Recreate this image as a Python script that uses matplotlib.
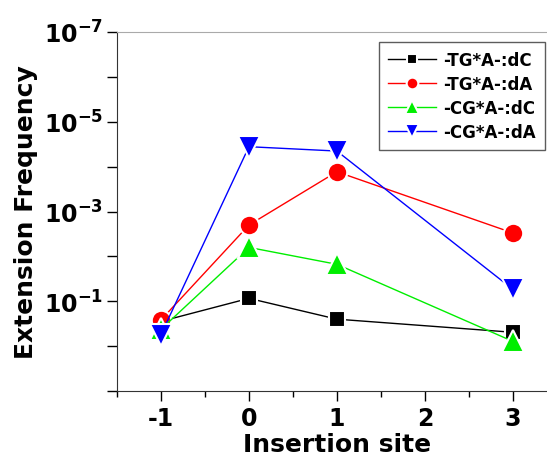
import math
import matplotlib
matplotlib.use('Agg')
import matplotlib.pyplot as plt
from matplotlib.ticker import FixedLocator, FuncFormatter, MultipleLocator, NullFormatter

plt.rcParams['font.family'] = 'DejaVu Sans'
plt.rcParams['font.weight'] = 'bold'
plt.rcParams['mathtext.fontset'] = 'dejavusans'
plt.rcParams['mathtext.default'] = 'bf'
plt.rcParams['axes.unicode_minus'] = False

# insertion sites
sites = [-1, 0, 1, 3]

# extension frequency per sequence context
tg_dc = [0.28, 0.086, 0.25, 0.49]
tg_da = [0.26, 0.0020, 1.3e-4, 0.0030]
cg_dc = [0.42, 0.0063, 0.015, 0.78]
cg_da = [0.55, 3.6e-5, 4.5e-5, 0.054]

labels = ['-TG*A-:dC', '-TG*A-:dA', '-CG*A-:dC', '-CG*A-:dA']

fig = plt.figure(figsize=(5.47, 4.64), dpi=100)
ax = fig.add_axes([0.2139, 0.155, 0.804, 0.774])

ax.plot(sites, tg_dc, color='black', lw=1, marker='s', ms=12, mec='white', mew=1.5, label=labels[0])
ax.plot(sites, tg_da, color='red', lw=1, marker='o', ms=14, mec='white', mew=1.5, label=labels[1])
ax.plot(sites, cg_dc, color='#00ee00', lw=1, marker='^', ms=16, mec='white', mew=1.5, label=labels[2])
ax.plot(sites, cg_da, color='blue', lw=1, marker='v', ms=16, mec='white', mew=1.5, label=labels[3])

ax.set_yscale('log')
ax.set_ylim(10, 1e-7)
ax.set_xlim(-1.5, 3.5)

ax.yaxis.set_major_locator(FixedLocator([10.0 ** e for e in range(-7, 2)]))
ax.yaxis.set_minor_formatter(NullFormatter())
ax.yaxis.set_minor_locator(FixedLocator([]))


def ylab(v, pos):
    e = int(round(math.log10(v)))
    if e in (-7, -5, -3, -1):
        return r'$\mathbf{10^{%d}}$' % e
    return ''


ax.yaxis.set_major_formatter(FuncFormatter(ylab))
ax.xaxis.set_major_locator(MultipleLocator(1))
ax.xaxis.set_minor_locator(MultipleLocator(0.5))

ax.tick_params(axis='both', which='major', labelsize=17, length=7, width=1, direction='out')
ax.tick_params(axis='x', which='minor', length=4, width=1, direction='out')
ax.tick_params(axis='y', which='major', pad=3)
for lab in ax.get_xticklabels():
    lab.set_fontweight('bold')

ax.spines['top'].set_color('#aaaaaa')
ax.spines['left'].set_color('#333333')
ax.spines['bottom'].set_color('#333333')

ax.set_xlabel('Insertion site', fontsize=18, fontweight='bold', labelpad=2)
ax.set_ylabel('Extension Frequency', fontsize=18, fontweight='bold', labelpad=4)

leg = ax.legend(loc='upper left', bbox_to_anchor=(0.595, 0.972), borderaxespad=0,
                fontsize=12, frameon=True, fancybox=False, edgecolor='#333333',
                markerscale=0.6, handlelength=2.9, handletextpad=0.4,
                borderpad=0.55, labelspacing=0.36)
leg.get_frame().set_linewidth(1)
for t in leg.get_texts():
    t.set_fontweight('bold')

fig.savefig('out.png', dpi=100)
